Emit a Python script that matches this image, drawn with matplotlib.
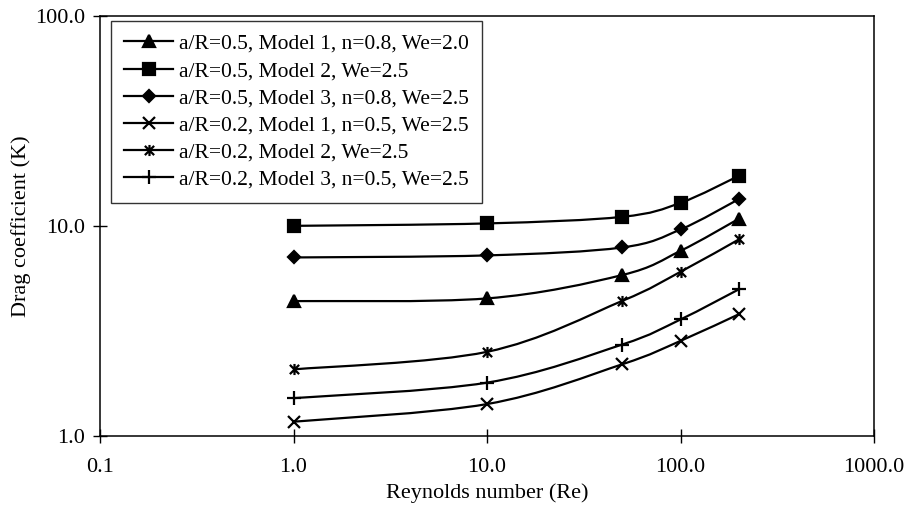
import numpy as np
import matplotlib
matplotlib.use("Agg")
import matplotlib.pyplot as plt
from matplotlib.path import Path
from matplotlib.patches import PathPatch
from matplotlib.lines import Line2D

plt.rcParams['font.family'] = ['Liberation Serif', 'DejaVu Serif']

re_vals = [1.0, 10.0, 50.0, 100.0, 200.0]
labels = [
    "a/R=0.5, Model 1, n=0.8, We=2.0",
    "a/R=0.5, Model 2, We=2.5",
    "a/R=0.5, Model 3, n=0.8, We=2.5",
    "a/R=0.2, Model 1, n=0.5, We=2.5",
    "a/R=0.2, Model 2, We=2.5",
    "a/R=0.2, Model 3, n=0.5, We=2.5",
]
k_m1_05 = [4.38, 4.51, 5.83, 7.60, 10.8]
k_m2_05 = [10.0, 10.27, 11.04, 12.87, 17.3]
k_m3_05 = [7.07, 7.23, 7.89, 9.61, 13.4]
k_m1_02 = [1.166, 1.415, 2.19, 2.83, 3.79]
k_m2_02 = [2.07, 2.51, 4.39, 6.04, 8.61]
k_m3_02 = [1.51, 1.79, 2.72, 3.58, 4.98]
series = [k_m1_05, k_m2_05, k_m3_05, k_m1_02, k_m2_02, k_m3_02]

xticks = [0.1, 1.0, 10.0, 100.0, 1000.0]
yticks = [1.0, 10.0, 100.0]

star = Path([(-1, -1), (1, 1), (-1, 1), (1, -1), (0, -1.2), (0, 1.2)],
            [Path.MOVETO, Path.LINETO, Path.MOVETO, Path.LINETO, Path.MOVETO, Path.LINETO])
markers = ['^', 's', 'D', 'x', star, '+']
msizes = [8, 8, 6.5, 8, 8, 10]

FS = 16


def smooth_path(xs, ys):
    # Excel-style smoothed line (Catmull-Rom Bezier) in log-log space
    lx = np.log10(xs)
    ly = np.log10(ys)
    p = np.column_stack([lx, ly])
    n = len(p)
    verts = [p[0]]
    codes = [Path.MOVETO]
    for i in range(n - 1):
        p0 = p[i - 1] if i > 0 else p[i]
        p1 = p[i]
        p2 = p[i + 1]
        p3 = p[i + 2] if i + 2 < n else p[i + 1]
        c1 = p1 + (p2 - p0) / 6.0
        c2 = p2 - (p3 - p1) / 6.0
        verts += [c1, c2, p2]
        codes += [Path.CURVE4] * 3
    verts = 10 ** np.array(verts)
    return Path(verts, codes)


fig = plt.figure(figsize=(9.07, 5.09), dpi=100)
W, H = 774, 419.7
ax = fig.add_axes([100 / 907, 1 - 435.7 / 509, W / 907, H / 509])
ax.set_xscale('log')
ax.set_yscale('log')
ax.set_xlim(0.1, 1000)
ax.set_ylim(1, 100)

handles = []
for ys, m, ms, lab in zip(series, markers, msizes, labels):
    patch = PathPatch(smooth_path(re_vals, ys), facecolor='none',
                      edgecolor='black', lw=1.6, zorder=2)
    ax.add_patch(patch)
    ax.plot(re_vals, ys, linestyle='none', marker=m, markersize=ms,
            color='black', markeredgewidth=1.6, zorder=3)
    handles.append(Line2D([], [], color='black', lw=1.6, marker=m,
                          markersize=ms, markeredgewidth=1.6))

ax.set_xticks(xticks)
ax.set_yticks(yticks)
ax.set_xticklabels([f"{v:.1f}" for v in xticks])
ax.set_yticklabels([f"{v:.1f}" for v in yticks])
ax.minorticks_off()
ax.tick_params(axis='both', which='major', direction='inout', length=9.5,
               width=1, labelsize=FS, colors='black')
ax.tick_params(axis='x', pad=11)
ax.tick_params(axis='y', pad=6)

for s in ax.spines.values():
    s.set_linewidth(1.1)
    s.set_color('black')

ax.set_xlabel("Reynolds number (Re)", fontsize=FS)
ax.xaxis.set_label_coords(0.5, (435.7 - 493) / H)
ax.xaxis.label.set_va('center')
ax.set_ylabel("Drag coefficient (K)", fontsize=FS)
ax.yaxis.set_label_coords((21 - 100) / W, 0.5)
ax.yaxis.label.set_va('center')

leg = ax.legend(handles, labels, loc='upper left',
                bbox_to_anchor=(11 / W, 1 - 5 / H),
                fontsize=15.5, frameon=True, fancybox=False,
                edgecolor='black', handlelength=2.3, handletextpad=0.25,
                labelspacing=0.33, borderpad=0.6, borderaxespad=0)
leg.get_frame().set_linewidth(1.0)

fig.savefig("out.png", dpi=100, facecolor='white')
